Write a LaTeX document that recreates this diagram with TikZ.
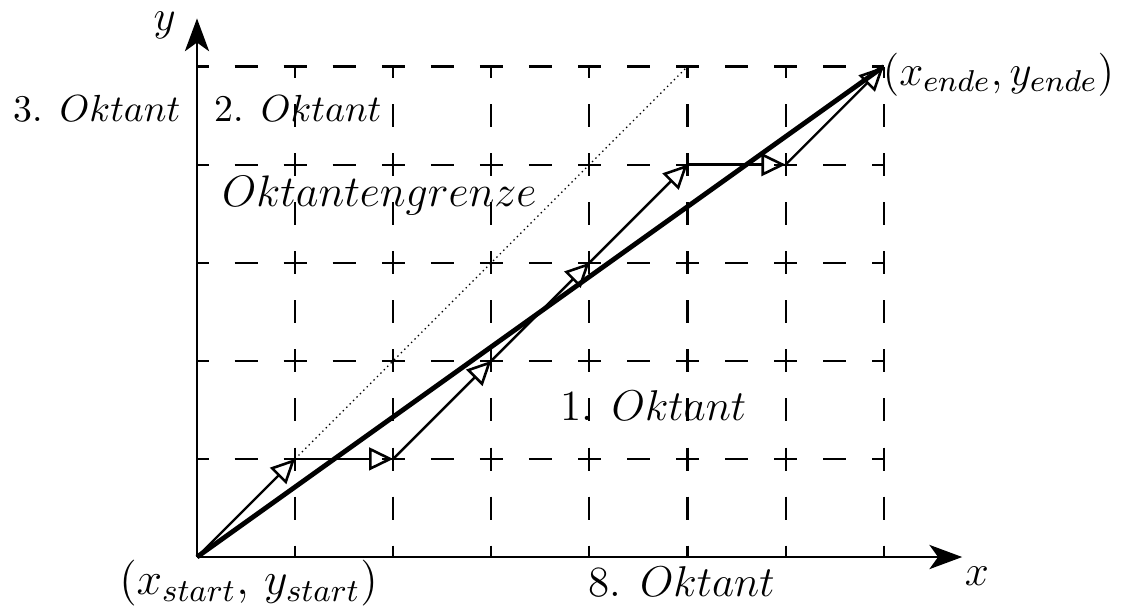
\RequirePackage{fix-cm}
\documentclass[tikz,border=0pt]{standalone}
\usetikzlibrary{arrows.meta}
\begin{document}
\begin{tikzpicture}[
  gridline/.style={line width=0.6pt, dash pattern=on 6.67pt off 7.56pt, dash phase=3.33pt},
  stepar/.style={line width=0.7pt, -{Triangle[open, length=7pt, width=6.6pt, line width=0.75pt]}},
  axisar/.style={line width=0.8pt, -{Stealth[length=9.5pt, width=7pt, inset=2.5pt]}},
  mainline/.style={line width=1.4pt},
  guide/.style={line width=0.4pt, densely dotted},
  lbl/.style={font=\fontsize{10.95}{13}\selectfont, inner sep=0pt},
  biglbl/.style={font=\fontsize{12.5}{15}\selectfont, inner sep=0pt}
]
\useasboundingbox (-2.008,-0.520) rectangle (9.490,5.678);
% grid
\foreach \i in {1,...,7} \draw[gridline] (\i,5) -- (\i,0);
\foreach \j in {1,...,5} \draw[gridline] (0,\j) -- (7,\j);
\draw[gridline] (0,0) -- (7,0);
% points
\coordinate (p0) at (0,0);
\coordinate (p1) at (1,1);
\coordinate (p2) at (2,1);
\coordinate (p3) at (3,2);
\coordinate (p4) at (4,3);
\coordinate (p5) at (5,4);
\coordinate (p6) at (6,4);
\coordinate (p7) at (7,5);
\coordinate (d5) at (5,5);
\coordinate (xe) at (7.80,0);
\coordinate (ye) at (0,5.49);
% axes
\draw[axisar] (p0) -- (xe);
\draw[axisar] (p0) -- (ye);
% dotted guide
\draw[guide] (p1) -- (d5);
% main line
\draw[mainline] (p0) -- (p7);
% steps
\draw[stepar] (p0) -- (p1);
\draw[stepar] (p1) -- (p2);
\draw[stepar] (p2) -- (p3);
\draw[stepar] (p3) -- (p4);
\draw[stepar] (p4) -- (p5);
\draw[stepar] (p5) -- (p6);
\draw[stepar] (p6) -- (p7);
% labels
\node[biglbl] (ylab) at (-0.33,5.42) {$y$};
\node[biglbl] (xlab) at (7.95,-0.20) {$x$};
\node[lbl] (o3) at (-1.02,4.57) {3. $Oktant$};
\node[lbl] (o2) at (1.03,4.57) {2. $Oktant$};
\node[font=\fontsize{12.8}{15}\selectfont, inner sep=0pt] (og) at (1.86,3.69) {$Oktantengrenze$};
\node[biglbl] (o1) at (4.65,1.54) {1. $Oktant$};
\node[biglbl] (o8) at (4.94,-0.255) {8. $Oktant$};
\node[font=\fontsize{13.3}{16}\selectfont, inner sep=0pt] (st) at (0.525,-0.27) {$(x_{start},\,y_{start})$};
\node[biglbl] (en) at (8.17,4.92) {$(x_{ende},y_{ende})$};
\end{tikzpicture}
\end{document}
